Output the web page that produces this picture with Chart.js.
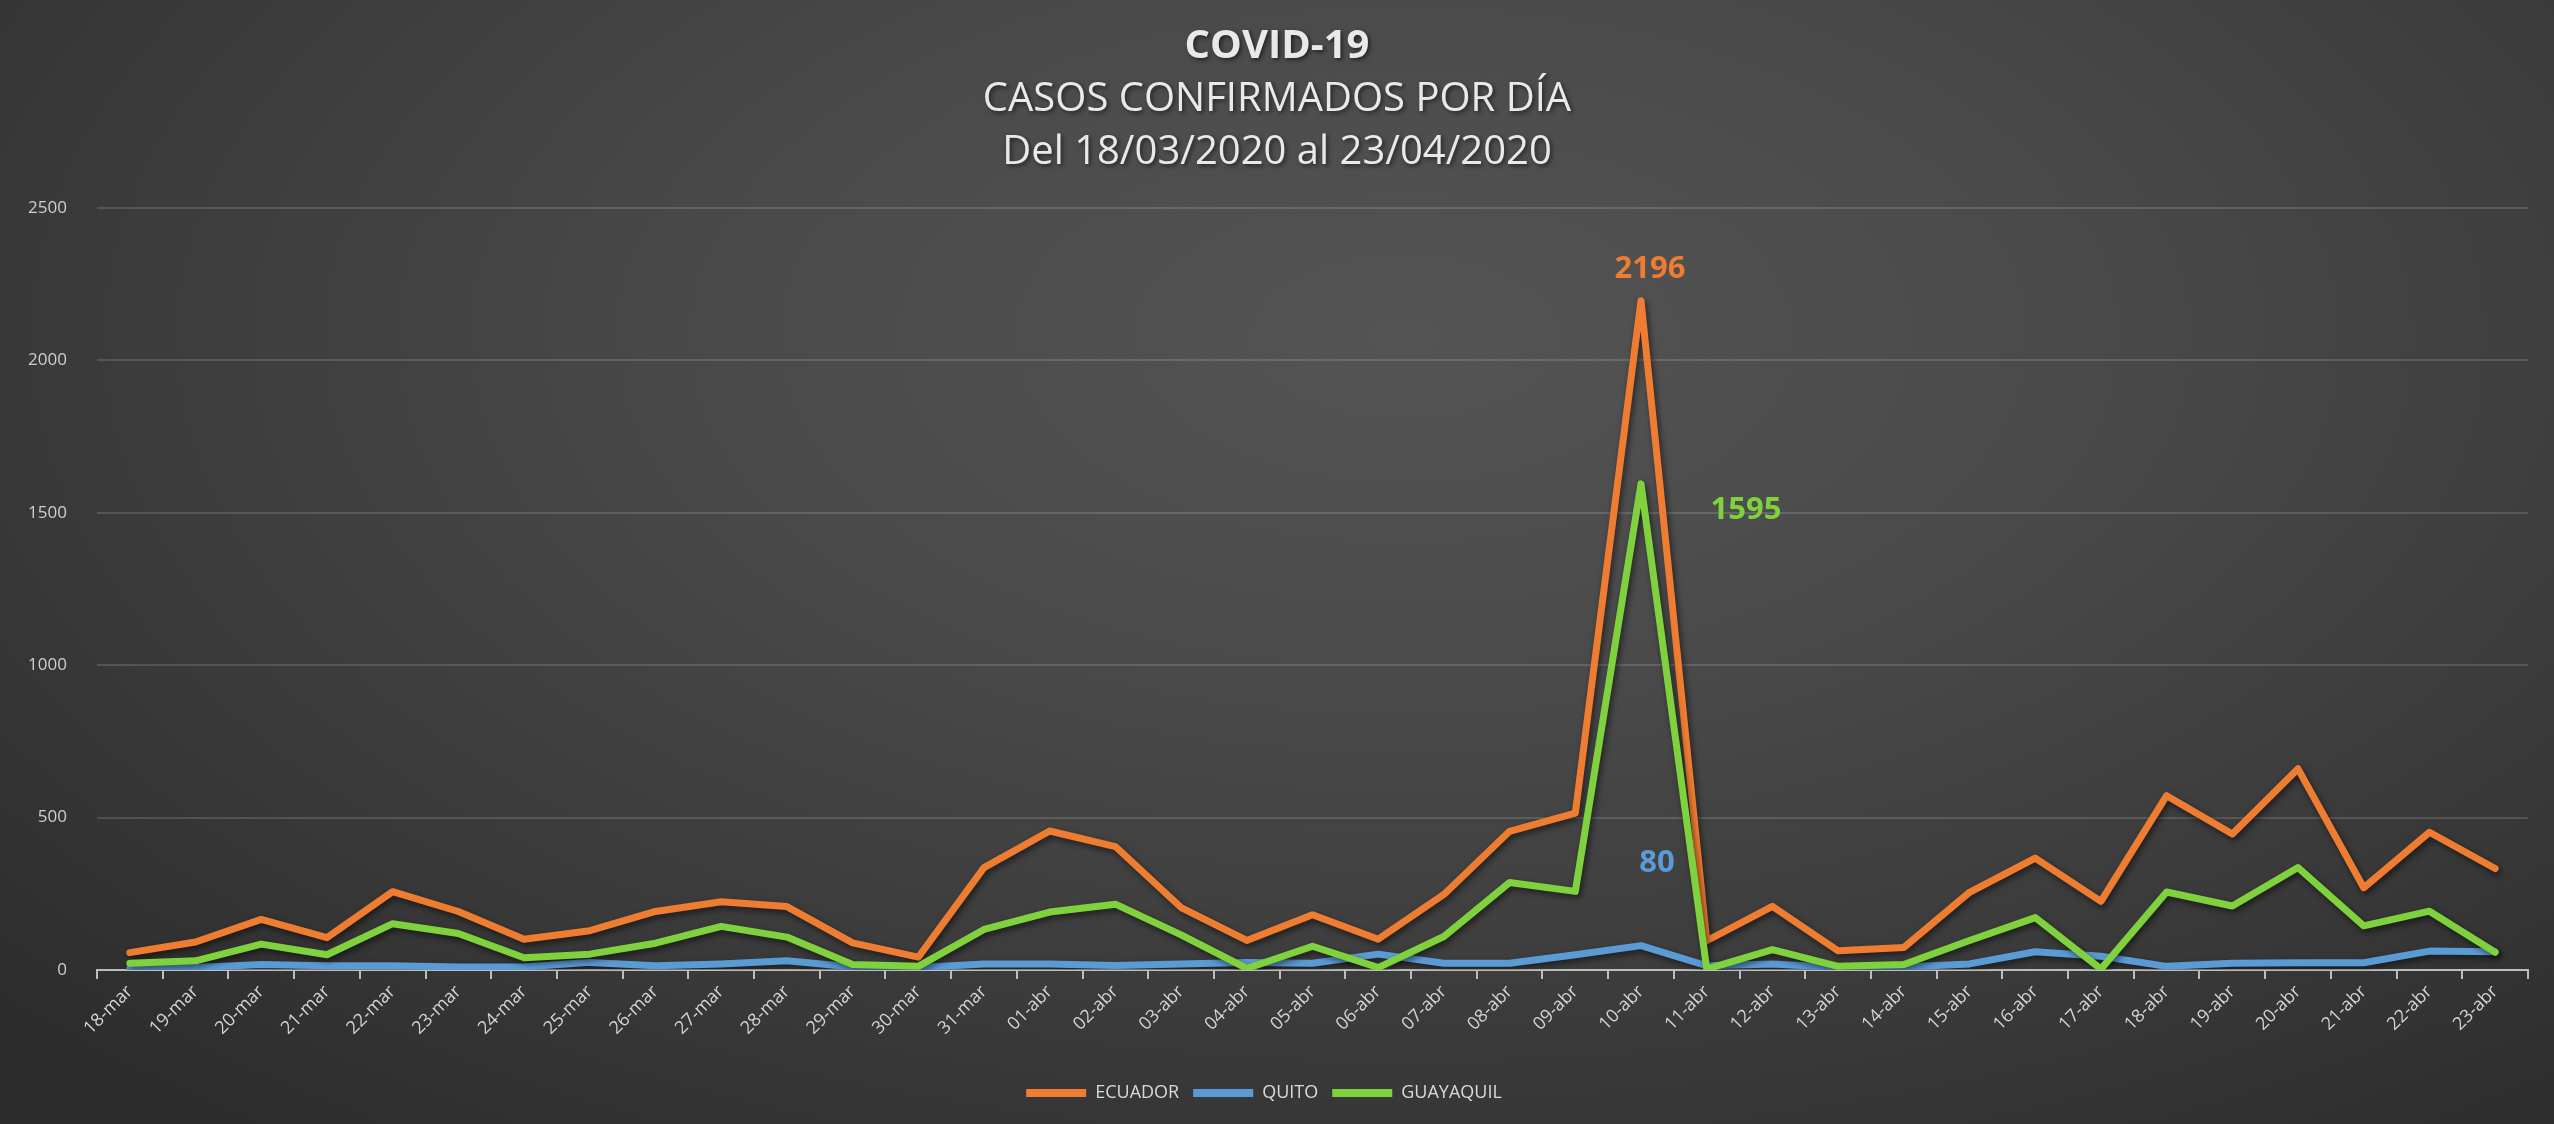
<!DOCTYPE html>
<html>
<head>
<meta charset="utf-8">
<script src="https://cdn.jsdelivr.net/npm/chart.js@4.4.1/dist/chart.umd.min.js"></script>
<style>
  html, body { margin: 0; padding: 0; }
  body {
    width: 2554px; height: 1124px; overflow: hidden;
    background: radial-gradient(ellipse 75% 90% at 55% 30%, #545454 0%, #4a4a4a 35%, #3a3a3a 70%, #2c2c2c 100%);
  }
  canvas { display: block; }
</style>
</head>
<body>
<canvas id="casosChart" width="2554" height="1124"></canvas>
<script>
// Categorías (días)
const dias = ['18-mar', '19-mar', '20-mar', '21-mar', '22-mar', '23-mar', '24-mar', '25-mar', '26-mar',
    '27-mar', '28-mar', '29-mar', '30-mar', '31-mar', '01-abr', '02-abr', '03-abr', '04-abr', '05-abr',
    '06-abr', '07-abr', '08-abr', '09-abr', '10-abr', '11-abr', '12-abr', '13-abr', '14-abr', '15-abr',
    '16-abr', '17-abr', '18-abr', '19-abr', '20-abr', '21-abr', '22-abr', '23-abr'];

// Casos confirmados por día
const ecuador = [57, 92, 166, 106, 257, 192, 101, 129, 192, 224, 208, 89, 42, 336,
    456, 405, 205, 97, 181, 101, 248, 455, 515, 2196, 96, 209, 63, 74, 255, 367, 225, 572, 446, 660, 270, 452, 333];
const quito = [5, 8, 18, 14, 14, 10, 10, 25, 14, 20, 30, 10, 8, 20,
    20, 15, 20, 25, 22, 52, 22, 22, 50, 80, 14, 20, 8, 10, 20, 60, 45, 12, 22, 24, 24, 62, 60];
const guayaquil = [22, 30, 85, 50, 152, 120, 40, 52, 88, 143, 108, 18, 12, 133,
    190, 216, 115, 5, 78, 8, 110, 287, 258, 1595, 3, 67, 12, 18, 97, 172, 3, 256, 210, 336, 145, 193, 58];

const yTicks = [0, 500, 1000, 1500, 2000, 2500];
const titulo = 'COVID-19';
const subtitulos = ['CASOS CONFIRMADOS POR DÍA', 'Del 18/03/2020 al 23/04/2020'];

const FONT = "'Open Sans', 'DejaVu Sans', sans-serif";
const PICO = dias.indexOf('10-abr');

// titles drawn by hand so the three lines sit where the original has them
const tituloPlugin = {
    id: 'titulo',
    afterDraw(chart) {
        const ctx = chart.ctx;
        ctx.save();
        ctx.textAlign = 'center';
        ctx.textBaseline = 'middle';
        ctx.fillStyle = '#e9e9e9';
        ctx.shadowColor = 'rgba(0,0,0,0.55)';
        ctx.shadowBlur = 4;
        ctx.shadowOffsetX = 2;
        ctx.shadowOffsetY = 2;
        ctx.font = 'bold 40px ' + FONT;
        ctx.fillText(titulo, 1277, 47);
        ctx.font = '40px ' + FONT;
        ctx.fillText(subtitulos[0], 1277, 100);
        ctx.fillText(subtitulos[1], 1277, 153);
        ctx.restore();
    }
};

// shadow under each line, like the Excel style
const sombraPlugin = {
    id: 'sombra',
    beforeDatasetDraw(chart) {
        const ctx = chart.ctx;
        ctx.save();
        ctx.shadowColor = 'rgba(0,0,0,0.55)';
        ctx.shadowBlur = 6;
        ctx.shadowOffsetX = 2;
        ctx.shadowOffsetY = 3;
    },
    afterDatasetDraw(chart) {
        chart.ctx.restore();
    }
};

// value labels on the 10-abr peak
const etiquetasPlugin = {
    id: 'etiquetas',
    afterDatasetsDraw(chart) {
        const ctx = chart.ctx;
        const offsets = [[9, -31], [16, -82], [105, 26]]; // ecuador, quito, guayaquil
        ctx.save();
        ctx.textAlign = 'center';
        ctx.textBaseline = 'middle';
        ctx.font = 'bold 31px ' + FONT;
        chart.data.datasets.forEach((ds, i) => {
            const pt = chart.getDatasetMeta(i).data[PICO];
            ctx.fillStyle = ds.borderColor;
            ctx.fillText(String(ds.data[PICO]), pt.x + offsets[i][0], pt.y + offsets[i][1]);
        });
        ctx.restore();
    }
};

const ctx = document.getElementById('casosChart').getContext('2d');
const casosChart = new Chart(ctx, {
    type: 'line',
    data: {
        labels: dias,
        datasets: [{
            label: 'ECUADOR',
            data: ecuador,
            borderColor: '#ee7d31',
            backgroundColor: '#ee7d31',
            order: 3
        }, {
            label: 'QUITO',
            data: quito,
            borderColor: '#5b9bd5',
            backgroundColor: '#5b9bd5',
            order: 2
        }, {
            label: 'GUAYAQUIL',
            data: guayaquil,
            borderColor: '#7fd23d',
            backgroundColor: '#7fd23d',
            order: 1
        }]
    },
    options: {
        responsive: false,
        animation: false,
        devicePixelRatio: 1,
        elements: {
            line: { borderWidth: 7, tension: 0, borderJoinStyle: 'round', borderCapStyle: 'round' },
            point: { radius: 0, hoverRadius: 0 }
        },
        layout: { padding: { top: 208, right: 26, left: 0, bottom: 12 } },
        plugins: {
            title: { display: false },
            tooltip: { enabled: false },
            legend: {
                position: 'bottom',
                labels: {
                    color: '#d9d9d9',
                    font: { family: FONT, size: 18 },
                    boxWidth: 60,
                    boxHeight: 8,
                    padding: 14,
                    sort: (a, b) => a.datasetIndex - b.datasetIndex,
                    generateLabels(chart) {
                        return chart.data.datasets.map((ds, i) => ({
                            text: ds.label,
                            fillStyle: ds.borderColor,
                            strokeStyle: ds.borderColor,
                            lineWidth: 0,
                            fontColor: '#d9d9d9',
                            datasetIndex: i,
                            hidden: false
                        }));
                    }
                }
            }
        },
        scales: {
            x: {
                offset: true,
                grid: {
                    offset: true,
                    drawOnChartArea: false,
                    drawTicks: true,
                    tickLength: 9,
                    color: '#bdbdbd',
                    lineWidth: 2
                },
                border: { color: '#bdbdbd', width: 2 },
                ticks: {
                    color: '#d4d4d4',
                    font: { family: FONT, size: 18 },
                    minRotation: 45,
                    maxRotation: 45,
                    autoSkip: false,
                    padding: 2
                },
                afterFit(scale) { scale.height = 100; }
            },
            y: {
                min: 0,
                max: 2500,
                afterBuildTicks(scale) { scale.ticks = yTicks.map(v => ({ value: v })); },
                grid: {
                    color: 'rgba(255,255,255,0.14)',
                    lineWidth: 2,
                    drawTicks: false
                },
                border: { display: false },
                ticks: {
                    color: '#cfcfcf',
                    font: { family: FONT, size: 17 },
                    padding: 30,
                    callback: v => String(v)
                },
                afterFit(scale) { scale.width = 97; }
            }
        }
    },
    plugins: [sombraPlugin, etiquetasPlugin, tituloPlugin]
});
</script>
</body>
</html>
